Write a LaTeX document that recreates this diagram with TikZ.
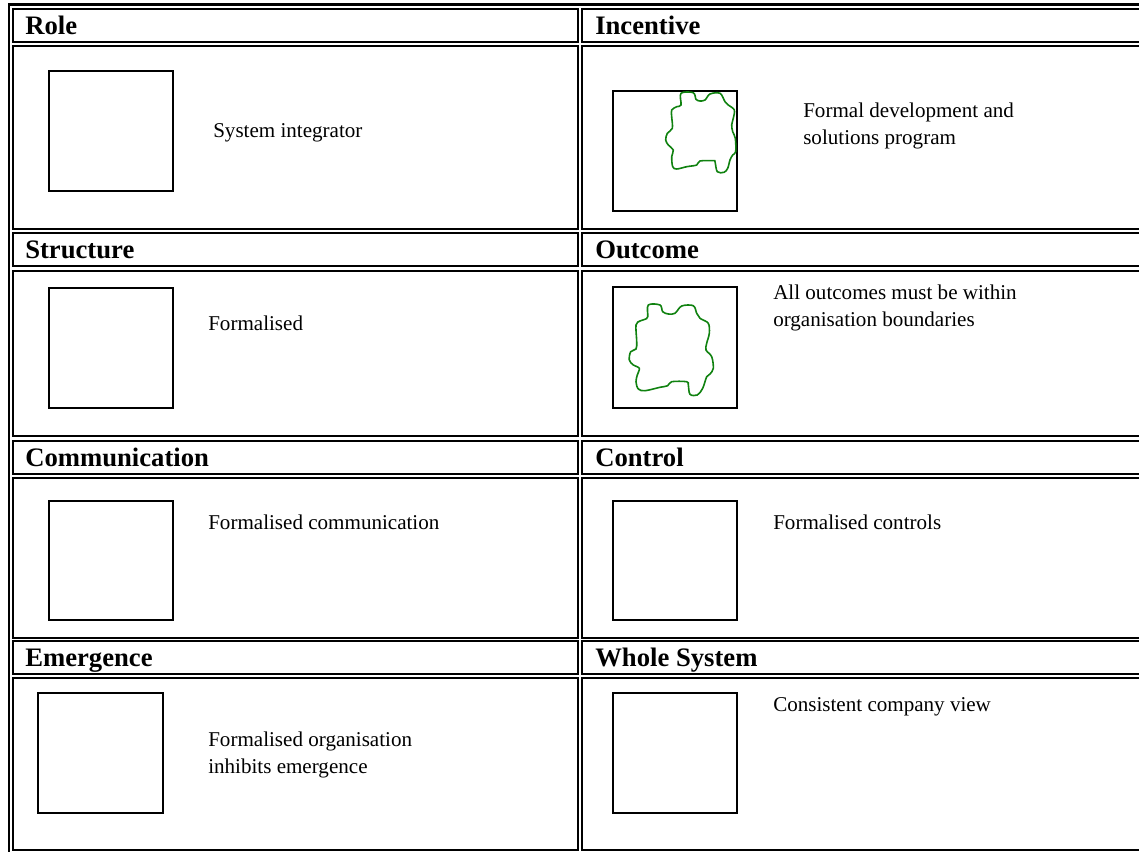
\documentclass[tikz,border=0pt]{standalone}
\usepackage{fontspec}
\setmainfont{Liberation Serif}
\definecolor{blobgreen}{RGB}{16,130,16}
\begin{document}
\begin{tikzpicture}[x=0.75pt,y=-0.75pt,
  cellbox/.style={draw=black,line width=1.5pt},
  outerline/.style={draw=black,line width=1.6pt},
  sqbox/.style={draw=black,line width=1.4pt},
  blob/.style={draw=blobgreen,line width=1.2pt},
  headtxt/.style={anchor=base west,inner sep=0pt,font=\fontsize{20}{24}\selectfont\bfseries},
  bodytxt/.style={anchor=base west,inner sep=0pt,font=\fontsize{15.8}{19}\selectfont}]
\useasboundingbox (0,0) rectangle (1139,852);
\clip (0,0) rectangle (1139,852);
\fill[white] (0,0) rectangle (1139,852);
% outer table border
\draw[outerline] (9,870) -- (9,4.5) -- (1160,4.5);
% cells
\foreach \ya/\yb in {9/42, 46/229.5, 233.5/266.5, 271/436, 441/473.5, 478/637.5, 641/673.5, 678/850}{
  \draw[cellbox] (13,\ya) rectangle (577.5,\yb);
  \draw[cellbox] (582,\ya) rectangle (1160,\yb);
}
% headers
\node[headtxt] (hrole) at (25,35) {Role};
\node[headtxt] (hinc) at (595,35) {Incentive};
\node[headtxt] (hstr) at (25,259) {Structure};
\node[headtxt] (hout) at (595,259) {Outcome};
\node[headtxt] (hcom) at (25,466.5) {Communication};
\node[headtxt] (hcon) at (595,466.5) {Control};
\node[headtxt] (heme) at (25,666.5) {Emergence};
\node[headtxt] (hwho) at (595,666.5) {Whole System};
% row 1
\draw[sqbox] (49,71) rectangle (173,191);
\node[bodytxt] (t1) at (213,138) {System integrator};
\draw[sqbox] (613,91) rectangle (737,211);
\draw[blob] plot[smooth cycle,tension=0.55] coordinates {
 (681,93.3) (693.3,92.7) (696,99.3) (700,101) (705,100) (710,94) (720,93.3)
 (725,101.7) (728.3,105) (734.3,110) (733.3,118.3) (731.7,125) (732.7,131.7)
 (735.3,138.3) (735.7,151.7) (732.7,155) (730,160) (727.7,168.3) (724,172.3)
 (717.3,171.7) (715,161.7) (713.3,160.7) (700,161) (696.7,165) (686.7,166.7)
 (676.7,169) (672.7,166.7) (671.7,156.7) (673.3,150) (668.3,145) (665.7,140)
 (667.3,133.3) (672.3,128.3) (671.7,116.7) (671.7,110) (676.7,106.7) (681,105)};
\node[bodytxt] (t2a) at (803,118) {Formal development and};
\node[bodytxt] (t2b) at (803,145) {solutions program};
% row 2
\draw[sqbox] (49,288) rectangle (173,408);
\node[bodytxt] (t3) at (208,330) {Formalised};
\draw[sqbox] (613,287) rectangle (737,408);
\draw[blob] plot[smooth cycle,tension=0.55] coordinates {
 (648.3,305) (660,305) (662.7,311.7) (668.3,314) (675,313.3) (681.7,306)
 (693.3,305.7) (696.7,313.3) (700,318.3) (708.3,323.3) (709.3,333.3)
 (706.7,343.3) (706,350) (711.7,356.7) (713.3,368.3) (710,374) (706.7,376.7)
 (702.7,388.3) (697.3,395) (690,394.3) (688.3,385) (686.7,381.7) (671.7,381.7)
 (667.7,385.7) (660,387.3) (645,390.7) (638.3,389) (636,381.7) (637.3,375)
 (639.3,368.3) (633.3,365) (629.3,360) (630.7,351.7) (636,349) (636.7,341.7)
 (636,325) (640,321) (645,319.3) (647.7,316.7)};
\node[bodytxt] (t4a) at (773,300) {All outcomes must be within};
\node[bodytxt] (t4b) at (773,326) {organisation boundaries};
% row 3
\draw[sqbox] (49,501) rectangle (173,620);
\node[bodytxt] (t5) at (208,529) {Formalised communication};
\draw[sqbox] (613,501) rectangle (737,620);
\node[bodytxt] (t6) at (773,529) {Formalised controls};
% row 4
\draw[sqbox] (38,693) rectangle (163,813);
\node[bodytxt] (t7a) at (208,746) {Formalised organisation};
\node[bodytxt] (t7b) at (208,773) {inhibits emergence};
\draw[sqbox] (613,693) rectangle (737,813);
\node[bodytxt] (t8) at (773,711) {Consistent company view};
\end{tikzpicture}
\end{document}
